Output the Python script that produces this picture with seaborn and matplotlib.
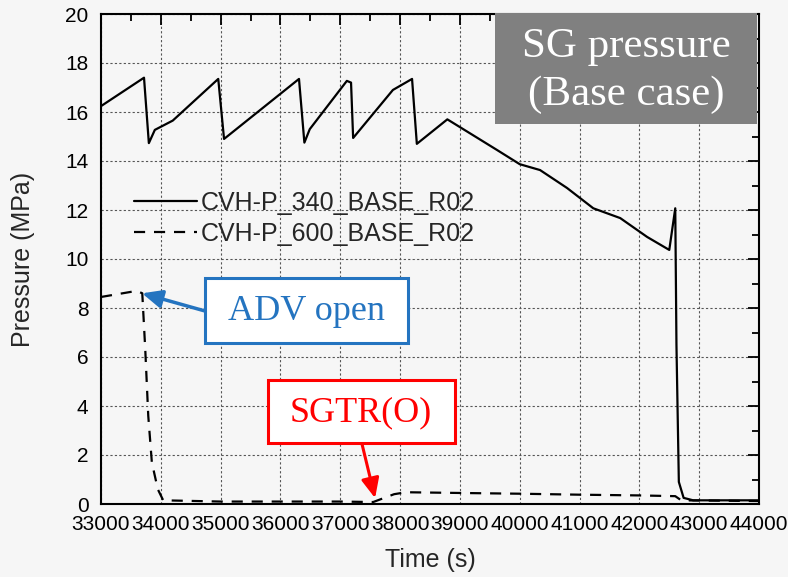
import matplotlib
matplotlib.use("Agg")
import matplotlib.pyplot as plt
from matplotlib.ticker import MultipleLocator
from matplotlib.patches import Rectangle
import seaborn as sns
import pandas as pd

# ---- data ----
t_340 = [33000, 33719, 33800, 33900, 34200, 34960, 35057, 36310, 36400, 36490,
         37110, 37180, 37215, 37880, 38200, 38280, 38790, 39620, 40000, 40340,
         40790, 41230, 41680, 42130, 42500, 42600, 42620, 42660, 42740, 42900, 44000]
p_340 = [16.24, 17.4, 14.73, 15.27, 15.65, 17.35, 14.9, 17.35, 14.75, 15.3,
         17.27, 17.2, 14.94, 16.9, 17.35, 14.7, 15.7, 14.45, 13.87, 13.63,
         12.9, 12.07, 11.67, 10.9, 10.37, 12.07, 6.5, 0.9, 0.25, 0.15, 0.15]

t_600 = [33000, 33600, 33690, 33740, 33790, 33850, 33950, 34040, 35000, 36000,
         37000, 37550, 37900, 38100, 39000, 40000, 41000, 42000, 42600, 42700, 44000]
p_600 = [8.45, 8.7, 8.6, 6.3, 3.6, 1.7, 0.6, 0.15, 0.1, 0.1,
         0.1, 0.08, 0.4, 0.48, 0.45, 0.42, 0.38, 0.35, 0.32, 0.15, 0.12]

series_names = ["CVH-P_340_BASE_R02", "CVH-P_600_BASE_R02"]
x_ticks = list(range(33000, 44001, 1000))
y_ticks = list(range(0, 21, 2))
title_lines = ["SG pressure", "(Base case)"]
note_adv = "ADV open"
note_sgtr = "SGTR(O)"

# ---- style ----
sns.set_theme(style="white")
plt.rcParams["font.family"] = ["Liberation Sans", "DejaVu Sans"]
bg = "#f6f6f6"

W, H = 788, 577
fig = plt.figure(figsize=(W / 100, H / 100), dpi=100, facecolor=bg)
ax = fig.add_axes([101 / W, 1 - 504 / H, (759 - 101) / W, (504 - 14) / H])
ax.set_facecolor(bg)

df1 = pd.DataFrame({"t": t_340, "p": p_340})
df2 = pd.DataFrame({"t": t_600, "p": p_600})
sns.lineplot(data=df1, x="t", y="p", ax=ax, color="black", lw=1.6,
             label=series_names[0], sort=False, estimator=None)
sns.lineplot(data=df2, x="t", y="p", ax=ax, color="black", lw=1.6,
             linestyle=(0, (5, 4)), label=series_names[1], sort=False, estimator=None)

ax.set_xlim(33000, 44000)
ax.set_ylim(0, 20)
ax.set_xticks(x_ticks)
ax.set_yticks(y_ticks)
ax.xaxis.set_minor_locator(MultipleLocator(500))
ax.yaxis.set_minor_locator(MultipleLocator(1))
ax.tick_params(which="both", direction="in", top=True, right=True,
               colors="black", labelsize=15, width=1.3)
ax.tick_params(which="major", length=8)
ax.tick_params(axis="x", which="major", pad=8)
ax.tick_params(axis="y", which="major", pad=9)
ax.tick_params(which="minor", length=5)
for s in ax.spines.values():
    s.set_color("black")
    s.set_linewidth(1.5)
ax.grid(True, which="major", color="#555555", linestyle=(0, (2, 2)), lw=0.8)
ax.set_axisbelow(True)

ax.set_xlabel("Time (s)", fontsize=18, labelpad=10)
ax.set_ylabel("Pressure (MPa)", fontsize=18)
ax.yaxis.set_label_coords(-0.1, 0.5)

leg = ax.legend(loc="upper left", bbox_to_anchor=(0.035, 0.66), frameon=False,
                fontsize=18, handlelength=2.5, handletextpad=0.15, labelspacing=0.3,
                borderaxespad=0)

# ---- annotation boxes ----
def fig_rect(x0, y0, x1, y1, fc, ec, lw):
    r = Rectangle((x0 / W, 1 - y1 / H), (x1 - x0) / W, (y1 - y0) / H,
                  transform=fig.transFigure, facecolor=fc, edgecolor=ec, lw=lw, zorder=5)
    fig.add_artist(r)

fig_rect(495, 13, 757, 124, "#808080", "none", 0)
fig.text(626 / W, 1 - 47 / H, title_lines[0], ha="center", va="center", color="white",
         fontsize=31, family="Liberation Serif", zorder=6)
fig.text(626 / W, 1 - 95 / H, title_lines[1], ha="center", va="center", color="white",
         fontsize=31, family="Liberation Serif", zorder=6)

blue = "#2474C0"
red = "#FF0000"
fig_rect(205, 278, 408, 343, "white", blue, 2.2)
fig.text(306 / W, 1 - 312 / H, note_adv, ha="center", va="center", color=blue,
         fontsize=26, family="Liberation Serif", zorder=6)
fig_rect(268, 380, 455, 443, "white", red, 2.2)
fig.text(361 / W, 1 - 413 / H, note_sgtr, ha="center", va="center", color=red,
         fontsize=26, family="Liberation Serif", zorder=6)

ax.annotate("", xy=(33686, 8.6), xycoords="data",
            xytext=(205, H - 311), textcoords="figure pixels",
            arrowprops=dict(arrowstyle="-|>,head_length=1.0,head_width=0.45",
                            color=blue, lw=2.5, shrinkA=0, shrinkB=0), zorder=6)
ax.annotate("", xy=(37582, 0.24), xycoords="data",
            xytext=(362, H - 444), textcoords="figure pixels",
            arrowprops=dict(arrowstyle="-|>,head_length=1.0,head_width=0.45",
                            color=red, lw=2.2, shrinkA=0, shrinkB=0), zorder=6)

fig.savefig("out.png", dpi=100, facecolor=bg)
